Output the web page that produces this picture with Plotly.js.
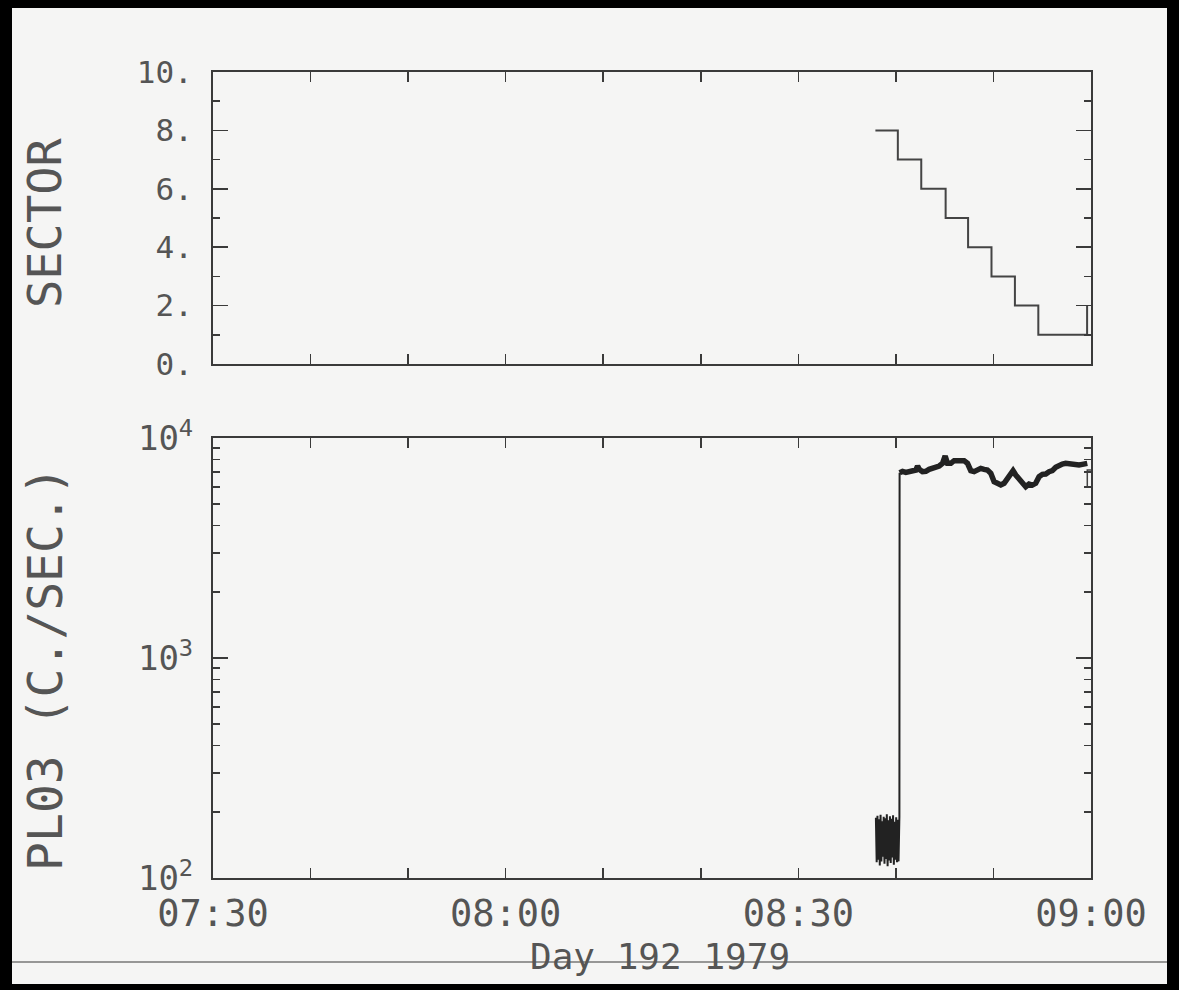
<!DOCTYPE html>
<html>
<head>
<meta charset="utf-8">
<script src="https://cdn.plot.ly/plotly-3.0.1.min.js"></script>
<style>
html,body{margin:0;padding:0;background:#000;width:1179px;height:990px;overflow:hidden;}
#plot{position:absolute;left:12px;top:8px;width:1155px;height:976px;}
</style>
</head>
<body>
<div id="plot"></div>
<script>
// time axis: minutes after 07:30 (Day 192 1979)
const xTickVals = [0, 30, 60, 90];
const xTickText = ['07:30', '08:00', '08:30', '09:00'];

// SECTOR panel (step line)
const sectorT = [67.9, 70.2, 72.6, 75.1, 77.4, 79.8, 82.2, 84.6, 89.6, 89.6];
const sectorV = [8, 7, 6, 5, 4, 3, 2, 1, 1, 2];

// PL03 count rate, low segment before the jump
const lowT = [67.95,68.03,68.11,68.19,68.27,68.35,68.43,68.51,68.59,68.67,68.75,68.83,68.91,68.99,69.07,
              69.15,69.23,69.31,69.39,69.47,69.55,69.63,69.71,69.79,69.87,69.95,70.03,70.11,70.19,70.27,70.36,70.38];
const lowV = [188,118,192,121,185,114,194,119,181,125,190,116,187,122,195,
              113,183,120,191,117,186,124,193,115,180,121,189,118,184,119,190,6958];

// PL03 count rate, high segment after the jump
const highT = [70.38,70.68,71.02,71.37,71.71,72.05,72.22,72.39,72.73,73.07,73.41,73.76,74.10,74.44,74.78,
               75.05,75.29,75.63,75.97,76.31,76.65,76.99,77.34,77.68,78.02,78.36,78.70,79.04,79.38,79.73,
               80.07,80.41,80.75,81.09,81.43,81.77,82.01,82.29,82.63,82.97,83.31,83.65,83.99,84.33,84.68,
               85.02,85.36,85.70,86.04,86.38,86.72,87.06,87.40,87.75,88.09,88.43,88.77,89.11,89.45,89.62];
const highV = [6958,7054,6982,7030,7103,7152,7460,7204,7030,7054,7204,7280,7357,7460,7669,
               8283,7669,7669,7888,7888,7862,7888,7669,7103,7030,7152,7280,7204,7152,6910,
               6331,6223,6114,6223,6489,6910,7103,6790,6557,6266,6008,6178,6114,6223,6672,
               6837,6862,7030,7103,7357,7539,7617,7669,7617,7669,7617,7539,7591,7669,7669];

// small bracket at the end of the record
const endT = [90, 89.62, 89.62, 90];
const endV = [7150, 7150, 6008, 6008];

const minorLog = [];
[100, 1000].forEach(d => { for (let k = 2; k <= 9; k++) minorLog.push(k * d); });

const ink = '#3a3a3a';
const txt = '#555555';
const fontFam = '"DejaVu Sans Mono", monospace';

const traces = [
  {x: sectorT, y: sectorV, xaxis: 'x2', yaxis: 'y2', mode: 'lines', line: {shape: 'hv', color: '#444', width: 2}, hoverinfo: 'skip'},
  {x: lowT, y: lowV, xaxis: 'x', yaxis: 'y', mode: 'lines', line: {color: '#222', width: 2}, hoverinfo: 'skip'},
  {x: highT, y: highV, xaxis: 'x', yaxis: 'y', mode: 'lines', line: {color: '#222', width: 5.5}, hoverinfo: 'skip'},
  {x: endT, y: endV, xaxis: 'x', yaxis: 'y', mode: 'lines', line: {color: '#444', width: 1.5}, hoverinfo: 'skip'}
];

const xCommon = {
  range: [0, 90], tickmode: 'array', tickvals: xTickVals, ticktext: xTickText,
  ticks: 'inside', ticklen: 10, tickwidth: 1.5, tickcolor: ink,
  minor: {tickmode: 'linear', tick0: 0, dtick: 10, ticks: 'inside', ticklen: 10, tickwidth: 1.5, tickcolor: ink},
  showline: true, linecolor: ink, linewidth: 2, mirror: 'ticks', showgrid: false, zeroline: false,
  tickfont: {family: fontFam, size: 37, color: txt}, ticklabelstandoff: 2
};

const layout = {
  width: 1155, height: 976,
  margin: {l: 201, r: 76, t: 64, b: 106},
  paper_bgcolor: '#f5f5f4', plot_bgcolor: 'rgba(0,0,0,0)',
  showlegend: false,
  xaxis: Object.assign({}, xCommon, {anchor: 'y', domain: [0, 1]}),
  xaxis2: Object.assign({}, xCommon, {anchor: 'y2', domain: [0, 1], matches: 'x', showticklabels: false}),
  yaxis: {
    domain: [0, 0.5459], anchor: 'x', type: 'log', range: [2, 4],
    tickmode: 'array', tickvals: [100, 1000, 10000], ticktext: ['10<sup>2</sup>', '10<sup>3</sup>', '10<sup>4</sup>'],
    ticks: 'inside', ticklen: 15, tickwidth: 1.5, tickcolor: ink,
    minor: {tickmode: 'array', tickvals: minorLog, ticks: 'inside', ticklen: 7, tickwidth: 1.5, tickcolor: ink},
    showline: true, linecolor: ink, linewidth: 2, mirror: 'ticks', showgrid: false, zeroline: false,
    tickfont: {family: fontFam, size: 34, color: txt}, ticklabelstandoff: 11
  },
  yaxis2: {
    domain: [0.6377, 1], anchor: 'x2', range: [0, 10],
    tickmode: 'linear', tick0: 0, dtick: 2, ticksuffix: '.',
    ticks: 'inside', ticklen: 15, tickwidth: 1.5, tickcolor: ink,
    minor: {tickmode: 'linear', tick0: 0, dtick: 1, ticks: 'inside', ticklen: 7, tickwidth: 1.5, tickcolor: ink},
    showline: true, linecolor: ink, linewidth: 2, mirror: 'ticks', showgrid: false, zeroline: false,
    tickfont: {family: fontFam, size: 31, color: txt}, ticklabelstandoff: 12
  },
  annotations: [
    {text: 'SECTOR', xref: 'paper', yref: 'paper', x: -0.1913, y: 0.8127, xanchor: 'center', yanchor: 'middle',
     textangle: -90, showarrow: false, font: {family: fontFam, size: 47, color: txt}},
    {text: 'PL03 (C./SEC.)', xref: 'paper', yref: 'paper', x: -0.1913, y: 0.2595, xanchor: 'center', yanchor: 'middle',
     textangle: -90, showarrow: false, font: {family: fontFam, size: 48, color: txt}},
    {text: 'Day 192 1979', xref: 'paper', yref: 'paper', x: 0.509, y: -0.098, xanchor: 'center', yanchor: 'middle',
     showarrow: false, font: {family: fontFam, size: 36, color: txt}}
  ],
  shapes: [
    {type: 'line', xref: 'paper', yref: 'paper', x0: -0.229, x1: 1.087, y0: -0.1042, y1: -0.1042,
     line: {color: '#777', width: 1.5}, layer: 'below'}
  ]
};

Plotly.newPlot('plot', traces, layout, {staticPlot: true, displayModeBar: false});
</script>
</body>
</html>
